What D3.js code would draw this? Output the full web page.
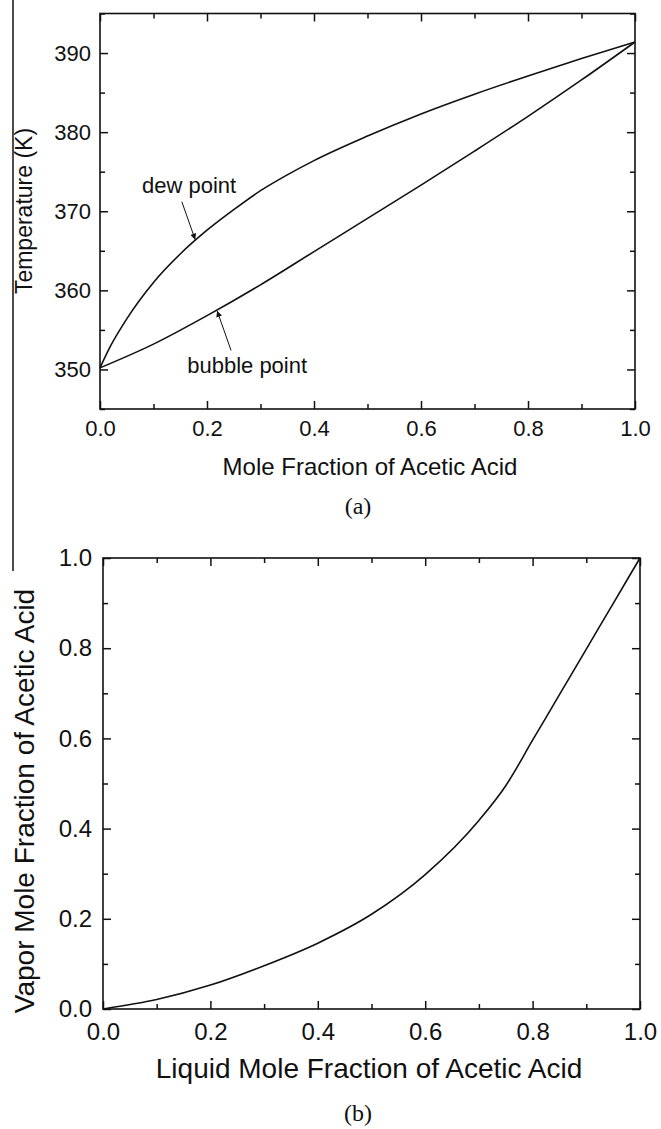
<!DOCTYPE html>
<html>
<head>
<meta charset="utf-8">
<script src="https://cdn.jsdelivr.net/npm/d3@7"></script>
<style>
body { margin: 0; background: #fff; }
svg { display: block; }
text { font-family: "Liberation Sans", Arial, Helvetica, sans-serif; fill: #111; }
</style>
</head>
<body>
<div id="viz"></div>
<script>
// (a) T-x-y diagram
var dewX = [0, 0.02, 0.05, 0.1, 0.15, 0.2, 0.25, 0.3, 0.35, 0.4, 0.5, 0.6, 0.7, 0.8, 0.9, 1.0];
var dewT = [350.2, 353.0, 356.4, 361.0, 364.6, 367.6, 370.2, 372.6, 374.6, 376.4, 379.5, 382.3, 384.8, 387.1, 389.3, 391.4];
var bubX = [0, 0.1, 0.2, 0.3, 0.4, 0.5, 0.6, 0.7, 0.8, 0.9, 1.0];
var bubT = [350.2, 353.2, 356.8, 360.7, 364.9, 369.1, 373.3, 377.6, 382.0, 386.6, 391.4];

// (b) x-y diagram
var liqX = [0, 0.1, 0.2, 0.3, 0.4, 0.5, 0.6, 0.7, 0.75, 0.8, 0.85, 0.9, 0.95, 1.0];
var vapY = [0, 0.021, 0.053, 0.096, 0.146, 0.21, 0.298, 0.418, 0.495, 0.596, 0.697, 0.798, 0.899, 1.0];

var fracTicks = [0, 0.2, 0.4, 0.6, 0.8, 1.0];
var fracMinor = [0.1, 0.3, 0.5, 0.7, 0.9];
var tempTicks = [350, 360, 370, 380, 390];
var tempMinor = [345, 355, 365, 375, 385, 395];

var svg = d3.select("#viz")
  .append("svg")
  .attr("width", 661)
  .attr("height", 1129);

svg.append("defs").append("marker")
  .attr("id", "head")
  .attr("viewBox", "0 0 10 10")
  .attr("refX", 10).attr("refY", 5)
  .attr("markerWidth", 10).attr("markerHeight", 6)
  .attr("markerUnits", "userSpaceOnUse")
  .attr("orient", "auto")
  .append("path")
  .attr("d", "M0,0 L10,5 L0,10 z")
  .attr("fill", "#111");

// stray left border of the scanned figure
svg.append("line")
  .attr("x1", 13).attr("x2", 13)
  .attr("y1", 0).attr("y2", 571)
  .attr("stroke", "#111").attr("stroke-width", 1.5);

function zip(a, b) { return a.map(function(v, i) { return [v, b[i]]; }); }

function axes(g, x, y, w, h, xMaj, xMin, yMaj, yMin, fx, fy, fs, padX, padY) {
  function style(sel) {
    sel.select(".domain").remove();
    sel.selectAll("line").attr("stroke", "#111").attr("stroke-width", 1.5);
    sel.selectAll("text").style("font-size", fs + "px").attr("fill", "#111");
  }
  g.append("g").attr("transform", "translate(0," + h + ")")
    .call(d3.axisBottom(x).tickValues(xMaj).tickSize(-8).tickPadding(padX).tickFormat(fx)).call(style);
  g.append("g").attr("transform", "translate(0," + h + ")")
    .call(d3.axisBottom(x).tickValues(xMin).tickSize(-5).tickFormat("")).call(style);
  g.append("g").call(d3.axisTop(x).tickValues(xMaj).tickSize(-8).tickFormat("")).call(style);
  g.append("g").call(d3.axisTop(x).tickValues(xMin).tickSize(-5).tickFormat("")).call(style);
  g.append("g").call(d3.axisLeft(y).tickValues(yMaj).tickSize(-8).tickPadding(padY).tickFormat(fy)).call(style);
  g.append("g").call(d3.axisLeft(y).tickValues(yMin).tickSize(-5).tickFormat("")).call(style);
  g.append("g").attr("transform", "translate(" + w + ",0)")
    .call(d3.axisRight(y).tickValues(yMaj).tickSize(-8).tickFormat("")).call(style);
  g.append("g").attr("transform", "translate(" + w + ",0)")
    .call(d3.axisRight(y).tickValues(yMin).tickSize(-5).tickFormat("")).call(style);
  g.append("rect")
    .attr("width", w).attr("height", h)
    .attr("fill", "none").attr("stroke", "#111").attr("stroke-width", 1.6);
}

// ---------- (a) ----------
var aL = 100, aT = 13.5, aW = 535, aH = 395.5;
var ga = svg.append("g").attr("transform", "translate(" + aL + "," + aT + ")");
var xa = d3.scaleLinear().domain([0, 1]).range([0, aW]);
var ya = d3.scaleLinear().domain([345, 395]).range([aH, 0]);

axes(ga, xa, ya, aW, aH, fracTicks, fracMinor, tempTicks, tempMinor,
  d3.format(".1f"), d3.format("d"), 22, 11, 9);

var lineA = d3.line()
  .x(function(d) { return xa(d[0]); })
  .y(function(d) { return ya(d[1]); })
  .curve(d3.curveMonotoneX);

ga.append("path").attr("d", lineA(zip(dewX, dewT)))
  .attr("fill", "none").attr("stroke", "#111").attr("stroke-width", 1.6);
ga.append("path").attr("d", lineA(zip(bubX, bubT)))
  .attr("fill", "none").attr("stroke", "#111").attr("stroke-width", 1.6);

ga.append("text").attr("x", xa(0.0785)).attr("y", ya(372.3))
  .style("font-size", "22px").text("dew point");
ga.append("line")
  .attr("x1", xa(0.153)).attr("y1", ya(371.2))
  .attr("x2", xa(0.178)).attr("y2", ya(366.4))
  .attr("stroke", "#111").attr("stroke-width", 1)
  .attr("marker-end", "url(#head)");

ga.append("text").attr("x", xa(0.163)).attr("y", ya(349.5))
  .style("font-size", "22px").text("bubble point");
ga.append("line")
  .attr("x1", xa(0.245)).attr("y1", ya(352.4))
  .attr("x2", xa(0.219)).attr("y2", ya(357.4))
  .attr("stroke", "#111").attr("stroke-width", 1)
  .attr("marker-end", "url(#head)");

svg.append("text")
  .attr("x", 370).attr("y", 475)
  .attr("text-anchor", "middle")
  .style("font-size", "24px")
  .text("Mole Fraction of Acetic Acid");

svg.append("text")
  .attr("transform", "translate(32,211) rotate(-90)")
  .attr("text-anchor", "middle")
  .style("font-size", "23px")
  .text("Temperature (K)");

svg.append("text")
  .attr("x", 358).attr("y", 514)
  .attr("text-anchor", "middle")
  .style("font-family", "'Liberation Serif', 'Times New Roman', serif")
  .style("font-size", "24px")
  .text("(a)");

// ---------- (b) ----------
var bL = 103, bT = 558, bW = 537, bH = 451;
var gb = svg.append("g").attr("transform", "translate(" + bL + "," + bT + ")");
var xb = d3.scaleLinear().domain([0, 1]).range([0, bW]);
var yb = d3.scaleLinear().domain([0, 1]).range([bH, 0]);

axes(gb, xb, yb, bW, bH, fracTicks, fracMinor, fracTicks, fracMinor,
  d3.format(".1f"), d3.format(".1f"), 24, 14, 11);

var lineB = d3.line()
  .x(function(d) { return xb(d[0]); })
  .y(function(d) { return yb(d[1]); })
  .curve(d3.curveMonotoneX);

gb.append("path").attr("d", lineB(zip(liqX, vapY)))
  .attr("fill", "none").attr("stroke", "#111").attr("stroke-width", 1.6);

svg.append("text")
  .attr("x", 369).attr("y", 1078)
  .attr("text-anchor", "middle")
  .style("font-size", "28px")
  .text("Liquid Mole Fraction of Acetic Acid");

svg.append("text")
  .attr("transform", "translate(34,801) rotate(-90)")
  .attr("text-anchor", "middle")
  .style("font-size", "28px")
  .text("Vapor Mole Fraction of Acetic Acid");

svg.append("text")
  .attr("x", 358).attr("y", 1121)
  .attr("text-anchor", "middle")
  .style("font-family", "'Liberation Serif', 'Times New Roman', serif")
  .style("font-size", "24px")
  .text("(b)");
</script>
</body>
</html>
